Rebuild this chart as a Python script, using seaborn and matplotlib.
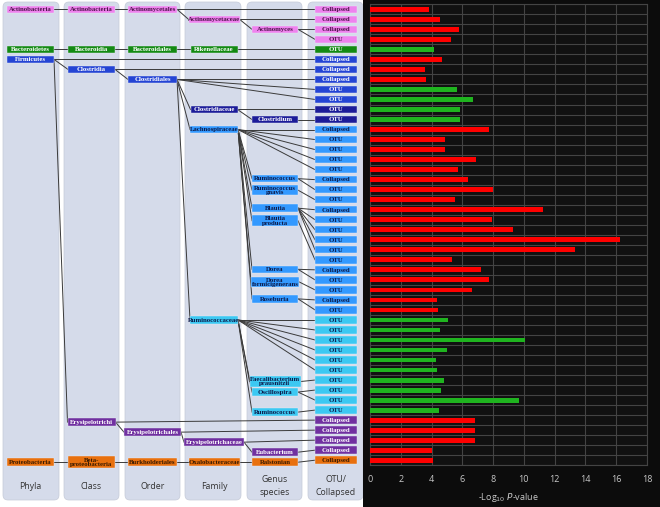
import numpy as np
import pandas as pd
import matplotlib
matplotlib.use("Agg")
import matplotlib.pyplot as plt
from matplotlib.patches import Rectangle, FancyBboxPatch
import seaborn as sns

# taxonomy nodes: label, level (0=phylum ... 4=genus), row, parent index, colour group
node_labels = ["Actinobacteria", "Actinobacteria", "Actinomycetales", "Actinomycetaceae", "Actinomyces",
               "Bacteroidetes", "Bacteroidia", "Bacteroidales", "Rikenellaceae",
               "Firmicutes", "Clostridia", "Clostridiales", "Clostridiaceae", "Clostridium",
               "Lachnospiraceae", "Ruminococcus", "Ruminococcus\ngnavis", "Blautia", "Blautia\nproducta",
               "Dorea", "Dorea\nformicigenerans", "Roseburia",
               "Ruminococcaceae", "Faecalibacterium\nprausnitzii", "Oscillospira", "Ruminococcus",
               "Erysipelotrichi", "Erysipelotrichales", "Erysipelotrichaceae", "Eubacterium",
               "Proteobacteria", "Beta-\nproteobacteria", "Burkholderiales", "Oxalobacteraceae", "Ralstonian"]
node_level = [0, 1, 2, 3, 4,
              0, 1, 2, 3,
              0, 1, 2, 3, 4,
              3, 4, 4, 4, 4,
              4, 4, 4,
              3, 4, 4, 4,
              1, 2, 3, 4,
              0, 1, 2, 3, 4]
node_row = [1, 1, 1, 2, 3,
            5, 5, 5, 5,
            6, 7, 8, 11, 12,
            13, 17.9, 19.05, 20.85, 22.1,
            26.95, 28.2, 29.9,
            32, 38.15, 39.2, 41.2,
            42.2, 43.2, 44.2, 45.2,
            46.2, 46.2, 46.2, 46.2, 46.2]
node_parent = [None, 0, 1, 2, 3,
               None, 5, 6, 7,
               None, 9, 10, 11, 12,
               11, 14, 14, 14, 14,
               14, 14, 14,
               11, 22, 22, 22,
               9, 26, 27, 28,
               None, 30, 31, 32, 33]
node_group = ["actino"] * 5 + ["bactero"] * 4 + ["firm"] * 3 + ["clostr"] * 2 + \
             ["lachno"] * 8 + ["rumino"] * 4 + ["erysi"] * 4 + ["proteo"] * 5

# OTU / collapsed column
otu_labels = ["Collapsed", "Collapsed", "Collapsed", "OTU", "OTU",
              "Collapsed", "Collapsed", "Collapsed", "OTU", "OTU",
              "OTU", "OTU", "Collapsed", "OTU", "OTU", "OTU", "OTU",
              "Collapsed", "OTU", "OTU", "Collapsed", "OTU", "OTU", "OTU", "OTU", "OTU",
              "Collapsed", "OTU", "OTU", "Collapsed", "OTU",
              "OTU", "OTU", "OTU", "OTU", "OTU", "OTU", "OTU", "OTU", "OTU", "OTU",
              "Collapsed", "Collapsed", "Collapsed", "Collapsed", "Collapsed"]
otu_parent = [2, 3, 4, 4, 8, 9, 10, 11, 11, 11, 12, 13,
              14, 14, 14, 14, 14, 15, 15, 16, 17, 17, 17, 17, 17, 18,
              19, 19, 20, 21, 21,
              22, 22, 22, 22, 22, 22, 23, 24, 24, 25,
              26, 27, 28, 29, 34]
otu_group = ["actino"] * 4 + ["bactero"] + ["firm"] * 5 + ["clostr"] * 2 + \
            ["lachno"] * 19 + ["rumino"] * 10 + ["erysi"] * 4 + ["proteo"]

# -log10 p-values
pvals = [3.85, 4.55, 5.78, 5.28, 4.18, 4.68, 3.59, 3.61, 5.65, 6.67, 5.84, 5.84,
         7.75, 4.87, 4.87, 6.88, 5.69, 6.39, 7.97, 5.52, 11.23, 7.90, 9.31, 16.23, 13.31,
         5.30, 7.21, 7.75, 6.60, 4.35, 4.39,
         5.04, 4.55, 10.06, 4.98, 4.29, 4.33, 4.78, 4.59, 9.70, 4.46,
         6.80, 6.80, 6.80, 4.05, 4.09]
direction = ["red"] * 4 + ["green"] + ["red"] * 3 + ["green"] * 4 + ["red"] * 19 + \
            ["green"] * 10 + ["red"] * 5

columns = ["Phyla", "Class", "Order", "Family", "Genus\nspecies", "OTU/\nCollapsed"]

group_colors = {
    "actino": ("#ee82ee", "#4a1448"),
    "bactero": ("#138a13", "#ffffff"),
    "firm": ("#2444d4", "#ffffff"),
    "clostr": ("#1c1c99", "#ffffff"),
    "lachno": ("#3399ff", "#0d1b4a"),
    "rumino": ("#3cc8f2", "#0d1b4a"),
    "erysi": ("#7030a0", "#ffffff"),
    "proteo": ("#e8700e", "#3a1a00"),
}

# layout (pixels in x, row positions in y)
W, H = 660, 507
ROW_PX, ROW0_PX = 10.02, 9.3
col_center = [30.5, 91.5, 152.5, 214, 275, 336]
col_min_w = [47, 47, 49, 47, 46, 42]
panel_x = [(3, 59), (64, 119), (125, 180), (185, 241), (247, 302), (308, 363)]


def px2row(py):
    return (py - ROW0_PX) / ROW_PX


fig = plt.figure(figsize=(W / 100, H / 100), dpi=100)
fig.patch.set_facecolor("white")

tree = fig.add_axes([0, 0, 1, 1])
tree.set_xlim(0, W)
tree.set_ylim(px2row(H), px2row(0))
tree.axis("off")

# column panels
for (x0, x1) in panel_x:
    tree.add_patch(FancyBboxPatch((x0, px2row(2)), x1 - x0, px2row(500) - px2row(2),
                                  boxstyle="round,pad=0,rounding_size=5",
                                  mutation_aspect=1 / ROW_PX,
                                  fc="#d5dbea", ec="#c4cad8", lw=0.5, zorder=1))
# black background for the bar chart
tree.add_patch(Rectangle((363, px2row(0)), W - 363, px2row(H) - px2row(0),
                         fc="#0c0c0c", ec="none", zorder=1))

font = dict(family="Liberation Serif", weight="bold", fontsize=4.9)


def box_width(label, level):
    n = max(len(s) for s in label.split("\n"))
    return max(col_min_w[level], 3.0 * n + 3)


node_w = [box_width(l, lv) for l, lv in zip(node_labels, node_level)]

# edges between taxa
for i, p in enumerate(node_parent):
    if p is None:
        continue
    x0 = col_center[node_level[p]] + node_w[p] / 2
    x1 = col_center[node_level[i]] - node_w[i] / 2
    tree.plot([x0, x1], [node_row[p] - 1, node_row[i] - 1], color="#3a3a3a", lw=0.7, zorder=2)

# edges to OTU column
otu_w = col_min_w[5]
for r, p in enumerate(otu_parent):
    x0 = col_center[node_level[p]] + node_w[p] / 2
    x1 = col_center[5] - otu_w / 2
    tree.plot([x0, x1], [node_row[p] - 1, r], color="#3a3a3a", lw=0.7, zorder=2)

# taxon boxes
for lab, lv, row, grp, w in zip(node_labels, node_level, node_row, node_group, node_w):
    fc, tc = group_colors[grp]
    h = 0.74 if "\n" not in lab else 1.05
    if lab.startswith("Beta"):
        h = 1.2
    y = row - 1
    tree.add_patch(Rectangle((col_center[lv] - w / 2, y - h / 2), w, h, fc=fc, ec="#e8ecf5",
                             lw=0.3, zorder=3))
    tree.text(col_center[lv], y + 0.03, lab, color=tc, ha="center", va="center",
              linespacing=0.8, zorder=4, **font)

# OTU boxes
for r, (lab, grp) in enumerate(zip(otu_labels, otu_group)):
    fc, tc = group_colors[grp]
    tree.add_patch(Rectangle((col_center[5] - otu_w / 2, r - 0.37), otu_w, 0.74, fc=fc,
                             ec="#e8ecf5", lw=0.3, zorder=3))
    tree.text(col_center[5], r + 0.03, lab, color=tc, ha="center", va="center", zorder=4, **font)

# column titles
for cx, name in zip(col_center, columns):
    tree.text(cx, px2row(486), name, ha="center", va="center", fontsize=6.3,
              family="Open Sans", color="#333333", linespacing=1.5)

# bar chart
df = pd.DataFrame({"row": [str(i) for i in range(1, len(pvals) + 1)],
                   "value": pvals, "dir": direction})
ax = fig.add_axes([370 / W, (H - 465.3) / H, 277 / W, 461 / H])
ax.set_facecolor("#111111")
sns.barplot(data=df, x="value", y="row", hue="dir", orient="h", dodge=False,
            palette={"red": "#ff0000", "green": "#1fb41f"}, width=0.48, saturation=1,
            linewidth=0, legend=False, ax=ax, zorder=3)
ax.set_xlim(0, 18)
ax.set_ylim(len(pvals) - 0.5, -0.5)
ax.set_xticks(np.arange(0, 19, 2))
ax.set_yticks([])
ax.set_yticks(np.arange(-0.5, len(pvals), 1), minor=True)
ax.grid(True, which="minor", axis="y", color="#444444", lw=0.8)
ax.grid(True, which="major", axis="x", color="#444444", lw=0.8)
ax.tick_params(axis="y", which="both", length=0, labelleft=False)
ax.tick_params(axis="x", length=0, pad=7, labelcolor="#c8c8c8", labelsize=6.5)
for t in ax.get_xticklabels():
    t.set_family("Open Sans")
for s in ax.spines.values():
    s.set_color("#444444")
    s.set_linewidth(0.8)
ax.set_ylabel("")
ax.set_xlabel(r"-Log$_{10}$ $P$-value", color="#c8c8c8", fontsize=6.5, family="Open Sans",
              labelpad=5)

fig.savefig("out.png", dpi=100, facecolor="white")
